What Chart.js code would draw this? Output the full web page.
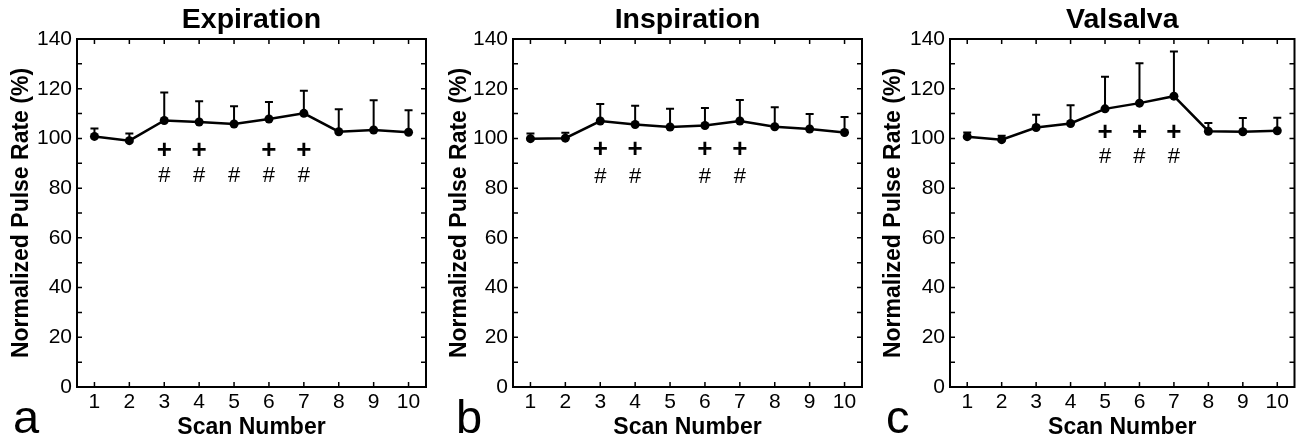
<!DOCTYPE html>
<html lang="en">
<head>
  <meta charset="UTF-8">
  <title>Normalized Pulse Rate</title>
  <script src="https://cdn.jsdelivr.net/npm/chart.js"></script>
  <style>
    html, body { margin: 0; padding: 0; background: #fff; }
    body { width: 1299px; height: 441px; position: relative; overflow: hidden; }
    .panel { position: absolute; top: 0; height: 441px; }
  </style>
</head>
<body>
  <div class="panel" style="left:0;width:440px"><canvas id="chartA"></canvas></div>
  <div class="panel" style="left:440px;width:430px"><canvas id="chartB"></canvas></div>
  <div class="panel" style="left:870px;width:429px"><canvas id="chartC"></canvas></div>

  <script>
    const FONT = '"Liberation Sans", Arial, sans-serif';

    const scans = [1, 2, 3, 4, 5, 6, 7, 8, 9, 10];
    const yTicks = [0, 20, 40, 60, 80, 100, 120, 140];
    const yMinor = [0, 10, 20, 30, 40, 50, 60, 70, 80, 90, 100, 110, 120, 130, 140];

    // Expiration
    const expMean  = [100.8, 99.1, 107.2, 106.6, 105.8, 107.8, 110.1, 102.7, 103.4, 102.5];
    const expUpper = [104.0, 102.0, 118.5, 115.0, 112.9, 114.7, 119.2, 111.7, 115.4, 111.3];
    const expPlus  = [3, 4, 6, 7];
    const expHash  = [3, 4, 5, 6, 7];

    // Inspiration
    const insMean  = [99.9, 100.1, 107.0, 105.6, 104.6, 105.2, 107.0, 104.7, 103.8, 102.4];
    const insUpper = [102.0, 102.3, 113.9, 113.1, 111.9, 112.2, 115.5, 112.5, 109.8, 108.6];
    const insPlus  = [3, 4, 6, 7];
    const insHash  = [3, 4, 6, 7];

    // Valsalva
    const valMean  = [100.7, 99.5, 104.4, 106.0, 111.9, 114.2, 117.0, 102.9, 102.7, 103.1];
    const valUpper = [102.4, 101.1, 109.5, 113.3, 124.8, 130.2, 135.0, 106.2, 108.2, 108.3];
    const valPlus  = [5, 6, 7];
    const valHash  = [5, 6, 7];

    // error bars, frame, inward ticks, significance marks, title and panel letter
    const decor = {
      id: 'decor',
      beforeDatasetsDraw(chart, args, o) {
        const { ctx, scales: { x, y } } = chart;
        ctx.save();
        ctx.strokeStyle = '#000';
        ctx.lineWidth = 2;
        ctx.beginPath();
        o.upper.forEach((u, i) => {
          const px = x.getPixelForValue(scans[i]);
          const p0 = y.getPixelForValue(o.mean[i]);
          const p1 = y.getPixelForValue(u);
          ctx.moveTo(px, p0);
          ctx.lineTo(px, p1);
          ctx.moveTo(px - 4, p1);
          ctx.lineTo(px + 4, p1);
        });
        ctx.stroke();
        ctx.restore();
      },
      afterDraw(chart, args, o) {
        const { ctx, chartArea: a, scales: { x, y } } = chart;
        ctx.save();
        ctx.strokeStyle = '#000';
        ctx.lineWidth = 2;
        ctx.strokeRect(a.left, a.top, a.right - a.left, a.bottom - a.top);

        ctx.lineWidth = 1.5;
        ctx.beginPath();
        yMinor.forEach(v => {
          const py = y.getPixelForValue(v);
          ctx.moveTo(a.left, py); ctx.lineTo(a.left + 5, py);
          ctx.moveTo(a.right, py); ctx.lineTo(a.right - 5, py);
        });
        scans.forEach(v => {
          const px = x.getPixelForValue(v);
          ctx.moveTo(px, a.bottom); ctx.lineTo(px, a.bottom - 5);
          ctx.moveTo(px, a.top); ctx.lineTo(px, a.top + 5);
        });
        ctx.stroke();

        ctx.fillStyle = '#000';
        ctx.textAlign = 'center';
        ctx.textBaseline = 'middle';
        ctx.font = 'bold 26px ' + FONT;
        o.plus.forEach(s => ctx.fillText('+', x.getPixelForValue(s), y.getPixelForValue(o.plusY)));
        ctx.font = '22px ' + FONT;
        o.hash.forEach(s => ctx.fillText('#', x.getPixelForValue(s), y.getPixelForValue(o.hashY)));

        ctx.textBaseline = 'alphabetic';
        ctx.font = 'bold 28.5px ' + FONT;
        ctx.fillText(o.title, (a.left + a.right) / 2, 28);

        ctx.textAlign = 'left';
        ctx.font = '47px ' + FONT;
        ctx.fillText(o.letter, o.letterX, 433);
        ctx.restore();
      }
    };

    function makeChart(id, c) {
      return new Chart(document.getElementById(id), {
        type: 'line',
        data: {
          datasets: [{
            data: scans.map((s, i) => ({ x: s, y: c.mean[i] })),
            borderColor: '#000',
            backgroundColor: '#000',
            borderWidth: 2.5,
            pointRadius: 4.5,
            pointHoverRadius: 4.5,
            pointBorderWidth: 0,
            tension: 0
          }]
        },
        options: {
          responsive: true,
          maintainAspectRatio: false,
          animation: false,
          layout: { padding: { top: 39, right: c.padRight, bottom: 0, left: 0 } },
          plugins: {
            legend: { display: false },
            tooltip: { enabled: false },
            decor: c
          },
          scales: {
            x: {
              type: 'linear',
              min: 0.5,
              max: 10.5,
              afterBuildTicks: s => { s.ticks = scans.map(v => ({ value: v })); },
              afterFit: s => { s.height = 54; },
              grid: { display: false, drawTicks: false },
              border: { display: false },
              ticks: { color: '#000', font: { size: 21, family: FONT }, padding: 3, maxRotation: 0, autoSkip: false },
              title: {
                display: true, text: 'Scan Number', color: '#000',
                font: { size: 23, weight: 'bold', family: FONT, lineHeight: 1.2 },
                padding: { top: 0, bottom: 0 }
              }
            },
            y: {
              min: 0,
              max: 140,
              afterBuildTicks: s => { s.ticks = yTicks.map(v => ({ value: v })); },
              afterFit: s => { s.width = c.plotLeft; },
              grid: { display: false, drawTicks: false },
              border: { display: false },
              ticks: { color: '#000', font: { size: 21, family: FONT }, padding: 5 },
              title: {
                display: true, text: 'Normalized Pulse Rate (%)', color: '#000',
                font: { size: 23, weight: 'bold', family: FONT, lineHeight: 1.2 },
                padding: { top: c.titlePad, bottom: 0 }
              }
            }
          }
        },
        plugins: [decor]
      });
    }

    makeChart('chartA', {
      title: 'Expiration', letter: 'a', letterX: 13,
      mean: expMean, upper: expUpper, plus: expPlus, hash: expHash, plusY: 95, hashY: 85,
      plotLeft: 77, padRight: 14, titlePad: 8
    });
    makeChart('chartB', {
      title: 'Inspiration', letter: 'b', letterX: 16,
      mean: insMean, upper: insUpper, plus: insPlus, hash: insHash, plusY: 95.4, hashY: 84.7,
      plotLeft: 73, padRight: 8, titlePad: 6
    });
    makeChart('chartC', {
      title: 'Valsalva', letter: 'c', letterX: 16,
      mean: valMean, upper: valUpper, plus: valPlus, hash: valHash, plusY: 102.4, hashY: 92.5,
      plotLeft: 80, padRight: 2, titlePad: 10
    });
  </script>
</body>
</html>
